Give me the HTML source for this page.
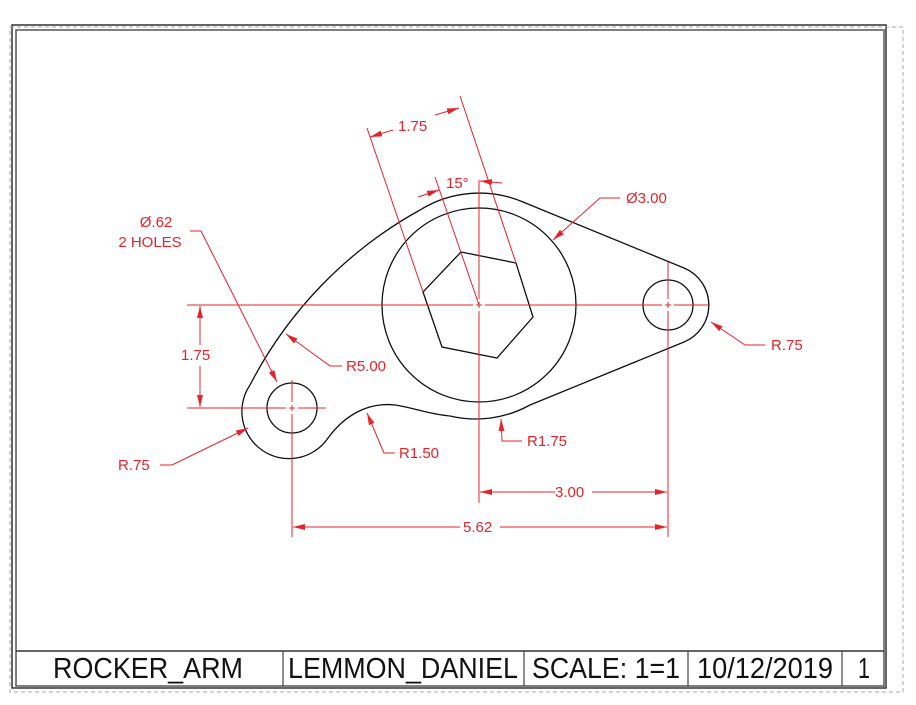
<!DOCTYPE html>
<html><head><meta charset="utf-8"><style>
html,body{margin:0;padding:0;background:#fff;}
svg{display:block;}
text{font-family:"Liberation Sans",Arial,sans-serif;}
</style></head><body>
<svg width="916" height="705" viewBox="0 0 916 705" xmlns="http://www.w3.org/2000/svg">
<defs>
<marker id="a" viewBox="0 0 12 6" refX="12" refY="3" markerWidth="12" markerHeight="6" markerUnits="userSpaceOnUse" orient="auto">
<path d="M0,0 L12,3 L0,6 z" fill="#e3242b"/>
</marker>
</defs>
<!-- frame -->
<rect x="12" y="25" width="874" height="663" fill="none" stroke="#333" stroke-width="1.5"/>
<rect x="16" y="30" width="868" height="656" fill="none" stroke="#555" stroke-width="1.5"/>
<path d="M10 27 H903 V692 H10 Z" fill="none" stroke="#aaa" stroke-width="1" stroke-dasharray="4 3"/>
<!-- title block -->
<line x1="16" y1="651" x2="884" y2="651" stroke="#333" stroke-width="1.5"/>
<g stroke="#444" stroke-width="1.2">
<line x1="283" y1="651" x2="283" y2="686"/>
<line x1="524" y1="651" x2="524" y2="686"/>
<line x1="688" y1="651" x2="688" y2="686"/>
<line x1="842" y1="651" x2="842" y2="686"/>
</g>
<g font-size="29" fill="#111" text-anchor="middle">
<text x="148" y="678" textLength="190" lengthAdjust="spacingAndGlyphs">ROCKER_ARM</text>
<text x="403" y="678" textLength="230" lengthAdjust="spacingAndGlyphs">LEMMON_DANIEL</text>
<text x="606" y="678" textLength="148" lengthAdjust="spacingAndGlyphs">SCALE: 1=1</text>
<text x="765" y="678" textLength="136" lengthAdjust="spacingAndGlyphs">10/12/2019</text>
<text x="864" y="678" textLength="12" lengthAdjust="spacingAndGlyphs">1</text>
</g>
<!-- part outline -->
<g fill="none" stroke="#111" stroke-width="1.3">
<path d="M523 202 A112 112 0 0 0 420 210 A420 420 0 0 0 250 385 A47 47 0 0 0 328 438 C345 415 368 402 395 405 C415 408 428 414 450 416 A112 112 0 0 0 530 405 L684 342 A40 40 0 0 0 684 268 Z"/>
<circle cx="479" cy="305" r="97"/>
<circle cx="292" cy="408" r="25"/>
<circle cx="668" cy="305" r="25"/>
<polygon points="461,252 516,263 533,317 497,358 442,347 423,292"/>
</g>
<!-- red annotations -->
<g stroke="#e3242b" stroke-width="1" fill="none">
<line x1="187" y1="305" x2="710" y2="305"/>
<line x1="187" y1="408" x2="326" y2="408"/>
<line x1="479" y1="180" x2="479" y2="503"/>
<line x1="292" y1="380" x2="292" y2="537"/>
<line x1="668" y1="262" x2="668" y2="537"/>
<line x1="200" y1="345" x2="200" y2="306" marker-end="url(#a)"/>
<line x1="200" y1="366" x2="200" y2="407" marker-end="url(#a)"/>
<line x1="555" y1="492" x2="480" y2="492" marker-end="url(#a)"/>
<line x1="592" y1="492" x2="667" y2="492" marker-end="url(#a)"/>
<line x1="460" y1="527" x2="293" y2="527" marker-end="url(#a)"/>
<line x1="500" y1="527" x2="667" y2="527" marker-end="url(#a)"/>
<line x1="367" y1="128" x2="423" y2="292"/>
<line x1="460" y1="96" x2="516" y2="263"/>
<line x1="393" y1="130" x2="370" y2="137" marker-end="url(#a)"/>
<line x1="435" y1="115" x2="459" y2="108" marker-end="url(#a)"/>
<line x1="435" y1="177" x2="479" y2="305"/>
<line x1="418" y1="197" x2="439" y2="190" marker-end="url(#a)"/>
<line x1="502" y1="183" x2="480" y2="181" marker-end="url(#a)"/>
<polyline points="620,198 600,198 553,240" marker-end="url(#a)"/>
<polyline points="765,345 745,345 711,322" marker-end="url(#a)"/>
<polyline points="342,366 330,366 286,334" marker-end="url(#a)"/>
<polyline points="395,453 384,453 367,413" marker-end="url(#a)"/>
<polyline points="522,441 502,441 501,419" marker-end="url(#a)"/>
<polyline points="160,465 172,465 248,428" marker-end="url(#a)"/>
<polyline points="190,231 201,231 277,382" marker-end="url(#a)"/>
</g>
<g stroke="#fff" stroke-width="2">
<line x1="473" y1="305" x2="476" y2="305"/><line x1="482" y1="305" x2="485" y2="305"/>
<line x1="479" y1="299" x2="479" y2="302"/><line x1="479" y1="308" x2="479" y2="311"/>
<line x1="286" y1="408" x2="289" y2="408"/><line x1="295" y1="408" x2="298" y2="408"/>
<line x1="292" y1="402" x2="292" y2="405"/><line x1="292" y1="411" x2="292" y2="414"/>
<line x1="662" y1="305" x2="665" y2="305"/><line x1="671" y1="305" x2="674" y2="305"/>
<line x1="668" y1="299" x2="668" y2="302"/><line x1="668" y1="308" x2="668" y2="311"/>
</g>
<g font-size="15" fill="#e3242b">
<text x="626" y="203">Ø3.00</text>
<text x="771" y="350">R.75</text>
<text x="346" y="371">R5.00</text>
<text x="399" y="458">R1.50</text>
<text x="527" y="446">R1.75</text>
<text x="118" y="470">R.75</text>
<text x="181" y="360">1.75</text>
<text x="555" y="497">3.00</text>
<text x="463" y="532">5.62</text>
<text x="398" y="131">1.75</text>
<text x="446" y="188">15°</text>
<text x="156" y="227" text-anchor="middle">Ø.62</text>
<text x="150" y="247" text-anchor="middle">2 HOLES</text>
</g>
</svg>
</body></html>
